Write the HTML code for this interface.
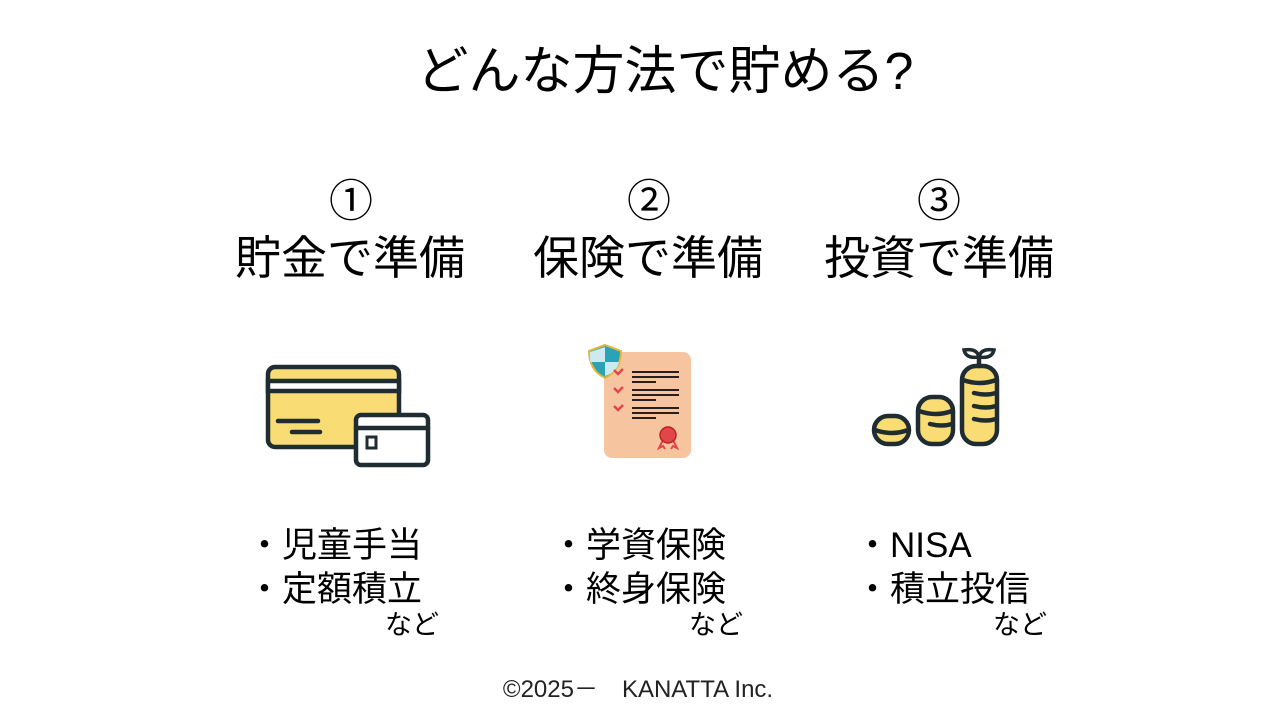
<!DOCTYPE html>
<html><head><meta charset="utf-8"><style>
html,body{margin:0;padding:0}
body{width:1280px;height:720px;background:#fff;position:relative;overflow:hidden;font-family:"Liberation Sans","Noto Sans CJK JP",sans-serif;color:#000}
.t{position:absolute;white-space:nowrap;line-height:1}
.c{transform:translateX(-50%)}
</style></head><body>
<div class="t c" style="left:665px;top:46px;font-size:52px">どんな方法で貯める?</div>

<div class="t c" style="left:351px;top:180px;font-size:44px">①</div>
<div class="t c" style="left:649px;top:180px;font-size:44px">②</div>
<div class="t c" style="left:939px;top:180px;font-size:44px">③</div>
<div class="t c" style="left:350px;top:235px;font-size:46px">貯金で準備</div>
<div class="t c" style="left:648px;top:235px;font-size:46px">保険で準備</div>
<div class="t c" style="left:939px;top:235px;font-size:46px">投資で準備</div>

<svg width="1280" height="720" style="position:absolute;left:0;top:0">
 <g stroke="#1f2d33" stroke-width="4.5" stroke-linecap="round">
  <rect x="268" y="367" width="131" height="80" rx="7" fill="#f9dc73"/>
  <rect x="268" y="381" width="131" height="10" fill="#fff"/>
  <line x1="278" y1="421" x2="318" y2="421"/>
  <line x1="292" y1="432" x2="320" y2="432"/>
  <rect x="356" y="415" width="72" height="50" rx="5" fill="#fff"/>
  <line x1="356" y1="428" x2="428" y2="428"/>
  <rect x="367" y="437" width="9" height="11" fill="#fff" stroke-width="3"/>
 </g>
 <rect x="604" y="352" width="87" height="106" rx="8" fill="#f7c4a0"/>
 <path d="M605 345 L621 351 Q621 370 605 378 Q589 370 589 351 Z" fill="#2aa3b8" stroke="#e2b73c" stroke-width="2"/>
 <path d="M605 347 L605 362 L590 362 L590 352 Z M605 362 L619 362 Q617 372 605 376 Z" fill="#cdeaf0"/>
 <g stroke="#e0464a" stroke-width="2.5" fill="none">
  <path d="M614 370 l4 4 l5 -5"/><path d="M614 388 l4 4 l5 -5"/><path d="M614 406 l4 4 l5 -5"/>
 </g>
 <g stroke="#2a1d1d" stroke-width="2">
  <line x1="632" y1="372" x2="679" y2="372"/><line x1="632" y1="377" x2="679" y2="377"/><line x1="632" y1="382" x2="656" y2="382"/>
  <line x1="632" y1="390" x2="679" y2="390"/><line x1="632" y1="395" x2="679" y2="395"/><line x1="632" y1="400" x2="656" y2="400"/>
  <line x1="632" y1="408" x2="679" y2="408"/><line x1="632" y1="413" x2="679" y2="413"/><line x1="632" y1="418" x2="656" y2="418"/>
 </g>
 <path d="M663 440 l-4 8 l4 -2 l2 3 M673 440 l4 8 l-4 -2 l-2 3" stroke="#e0464a" stroke-width="2" fill="none"/>
 <circle cx="668" cy="435" r="8" fill="#e0464a" stroke="#b22" stroke-width="1.5"/>
 <g stroke="#1f2d33" stroke-width="4.5" fill="#f9dc73" stroke-linecap="round">
  <rect x="874" y="416" width="35" height="28" rx="14"/>
  <path d="M875 430 q17 6 33 0" fill="none"/>
  <rect x="918" y="397" width="35" height="47" rx="14"/>
  <path d="M919 411 q17 6 33 0 M930 424 q12 3 22 0" fill="none"/>
  <rect x="962" y="366" width="35" height="78" rx="14"/>
  <path d="M963 380 q17 6 33 0 M974 393 q12 3 22 0 M974 406 q12 3 22 0 M974 419 q12 3 22 0" fill="none"/>
  <path d="M979 366 L979 356" fill="none"/>
  <path d="M979 357 q-2 -9 -15 -7 q2 9 15 7 Z M979 357 q2 -9 15 -7 q-2 9 -15 7 Z" fill="none" stroke-width="3.5"/>
 </g>
</svg>

<div class="t" style="left:247px;top:524px;font-size:35px;line-height:44px">・児童手当<br>・定額積立</div>
<div class="t" style="left:551px;top:524px;font-size:35px;line-height:44px">・学資保険<br>・終身保険</div>
<div class="t" style="left:855px;top:524px;font-size:35px;line-height:44px">・NISA<br>・積立投信</div>
<div class="t" style="left:385px;top:612px;font-size:27px">など</div>
<div class="t" style="left:689px;top:612px;font-size:27px">など</div>
<div class="t" style="left:993px;top:612px;font-size:27px">など</div>

<div class="t c" style="left:638px;top:678px;font-size:24px;color:#222">©2025－　KANATTA Inc.</div>
</body></html>
